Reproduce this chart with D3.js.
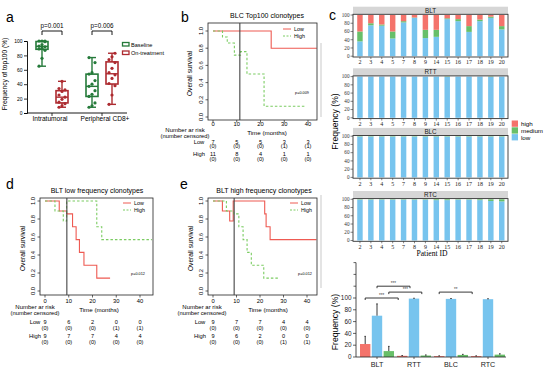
<!DOCTYPE html>
<html><head><meta charset="utf-8">
<script src="https://cdn.jsdelivr.net/npm/d3@7"></script>
<style>body{margin:0;background:#fff}svg{display:block}</style>
</head><body>
<svg id="c" width="554" height="369"></svg>
<script>
// ================= DATA =================
// ---- panel a (box plots) ----
const aGroups = ["Intratumoral", "Peripheral CD8+"];
const aSeries = ["Baseline", "On-treatment"];
const aIntraBaseline = [65, 76, 87, 89, 90, 92, 93, 95, 99, 100, 100, 100];
const aIntraOnTreat  = [8, 10, 13, 15, 19, 22, 25, 30, 32, 34, 44];
const aPeriBaseline  = [8, 10, 14, 23, 26, 31, 37, 40, 45, 54, 56, 70, 77];
const aPeriOnTreat   = [12, 25, 38, 41, 48, 53, 56, 62, 70, 74, 78, 83];
const aTicks = [0, 20, 40, 60, 80, 100];
const aPvals = ["p=0.001", "p=0.006"];

// ---- KM panels ----
const kmTicksX = [0, 10, 20, 30, 40];
const kmTicksY = [0, 0.2, 0.4, 0.6, 0.8, 1.0];
const kmLegend = ["Low", "High"];

const bTitle = "BLC Top100 clonotypes";
const bLowT  = [0, 24.5, 43.7];
const bLowS  = [1, 0.8, 0.8];
const bHighT = [0, 4, 6, 9, 11.6, 14.3, 21.5, 38.9];
const bHighS = [1, 0.93, 0.86, 0.72, 0.76, 0.5, 0.125, 0.125];
const bCut = 11.3, bP = "p=0.009";
const bRiskLow  = ["7", "5", "5", "3", "3"],  bCensLow  = ["(0)", "(0)", "(0)", "(1)", "(1)"];
const bRiskHigh = ["11", "8", "4", "1", "1"], bCensHigh = ["(0)", "(0)", "(0)", "(0)", "(0)"];

const dTitle = "BLT low frequency clonotypes";
const dLowT  = [0, 6, 9.1, 11.6, 13.1, 14.5, 16.4, 21.8, 27.4];
const dLowS  = [1, 0.889, 0.857, 0.714, 0.571, 0.429, 0.286, 0.143, 0.143];
const dHighT = [0, 4.2, 7.7, 9.1, 21.8, 23.9, 45];
const dHighS = [1, 0.889, 0.778, 1.0, 0.714, 0.571, 0.571];
const dCut = 9.2, dP = "p=0.012";
const dRiskLow  = ["9", "6", "2", "0", "0"], dCensLow  = ["(0)", "(0)", "(0)", "(1)", "(1)"];
const dRiskHigh = ["9", "7", "7", "4", "4"], dCensHigh = ["(0)", "(0)", "(0)", "(0)", "(0)"];

const eTitle = "BLT high frequency clonotypes";
const eLowT  = [0, 4.0, 7.1, 8.6, 22.0, 22.6, 24.3, 44];
const eLowS  = [1, 0.889, 0.778, 1.0, 0.857, 0.714, 0.571, 0.571];
const eHighT = [0, 5.7, 8.8, 11, 12.8, 14.5, 16.3, 21.6, 28.1];
const eHighS = [1, 0.889, 0.857, 0.714, 0.571, 0.429, 0.286, 0.143, 0.143];
const eCut = 9.0, eP = "p=0.012";
const eRiskLow  = ["9", "7", "7", "4", "4"], eCensLow  = ["(0)", "(0)", "(0)", "(0)", "(0)"];
const eRiskHigh = ["9", "6", "2", "0", "0"], eCensHigh = ["(0)", "(0)", "(0)", "(1)", "(1)"];

// ---- panel c facets ----
const patients = ["2", "3", "4", "5", "7", "8", "9", "14", "15", "16", "17", "18", "19", "20"];
const facetNames = ["BLT", "RTT", "BLC", "RTC"];
const levels = ["high", "medium", "low"];
const bltLow  = [36, 75, 74, 43, 82, 93, 44, 47, 90, 85, 59, 85, 93, 65];
const bltMed  = [24, 5, 3, 17, 3, 1, 20, 17, 2, 5, 14, 4, 3, 8];
const bltHigh = [40, 20, 23, 40, 15, 6, 36, 36, 8, 10, 27, 11, 4, 27];
const rttLow  = [100, 100, 100, 100, 100, 100, 100, 100, 99, 100, 100, 100, 99, 100];
const rttMed  = [0, 0, 0, 0, 0, 0, 0, 0, 1, 0, 0, 0, 1, 0];
const rttHigh = [0, 0, 0, 0, 0, 0, 0, 0, 0, 0, 0, 0, 0, 0];
const blcLow  = [99, 99, 99, 99, 99, 99, 99, 99, 99, 99, 99, 99, 99, 99];
const blcMed  = [1, 1, 1, 1, 1, 1, 1, 1, 1, 1, 1, 1, 1, 1];
const blcHigh = [0, 0, 0, 0, 0, 0, 0, 0, 0, 0, 0, 0, 0, 0];
const rtcLow  = [99, 99, 99, 99, 99, 99, 99, 98, 98, 99, 99, 98, 96, 95];
const rtcMed  = [1, 1, 1, 1, 1, 1, 1, 2, 2, 1, 1, 2, 4, 5];
const rtcHigh = [0, 0, 0, 0, 0, 0, 0, 0, 0, 0, 0, 0, 0, 0];
const facetTicks = [0, 20, 40, 60, 80, 100];

// ---- panel c summary bars ----
const sumGroups = ["BLT", "RTT", "BLC", "RTC"];
const sumOrder = ["high", "low", "medium"];
const sumHigh = [22, 2, 1.5, 1.5], sumHighErr = [13, 0.5, 0.5, 0.5];
const sumLow  = [70, 99, 98.5, 98], sumLowErr = [20, 0.6, 0.6, 0.8];
const sumMed  = [10, 2.5, 3.5, 4],  sumMedErr = [8, 1, 1, 1.5];
const sumTicks = [0, 20, 40, 60, 80, 100];
const sumMinorTicks = [120, 140, 160];
const sigFrom = [["BLT", "high"], ["BLT", "medium"], ["BLT", "low"], ["BLC", "high"]];
const sigTo   = [["RTT", "high"], ["RTT", "medium"], ["RTT", "low"], ["RTC", "high"]];
const sigLevel = [100, 110, 120, 110];
const sigLabel = ["***", "***", "***", "**"];

// ================= DRAWING =================
const SANS = "'Liberation Sans', Arial, sans-serif";
const SERIF = "'Liberation Serif', 'Times New Roman', serif";
const svg = d3.select("#c");
const txt = (x, y, s, size, opt = {}) => {
  const t = svg.append("text").attr("x", x).attr("y", y).text(s)
    .attr("font-family", opt.font || SANS).attr("font-size", size)
    .attr("fill", opt.fill || "#000").attr("text-anchor", opt.anchor || "start");
  if (opt.rot) t.attr("transform", `rotate(${opt.rot},${x},${y})`);
  return t;
};
const line = (x1, y1, x2, y2, col = "#000", w = 0.8, dash = null) => {
  const l = svg.append("line").attr("x1", x1).attr("y1", y1).attr("x2", x2).attr("y2", y2)
    .attr("stroke", col).attr("stroke-width", w);
  if (dash) l.attr("stroke-dasharray", dash);
  return l;
};

// panel letters
[["a", 6, 22], ["b", 181, 22], ["c", 329, 20], ["d", 6, 189], ["e", 180, 189]]
  .forEach(([s, x, y]) => txt(x, y, s, 14));

// separator lines
line(321, 43, 321, 117, "#bbb", 0.8);
line(321, 195, 321, 288, "#bbb", 0.8);

// ---------- panel a ----------
(function () {
  const green = "#257a3a", red = "#ad2b30";
  const cols = [green, red];
  const x = d3.scaleBand().domain(aGroups).range([27, 127]);
  const xs = d3.scaleBand().domain(aSeries).range([-20, 20]);
  const y = d3.scaleLinear().domain([0, 100]).range([113, 41]);
  const g = svg.append("g");
  g.append("g").attr("transform", "translate(27,0)")
    .call(d3.axisLeft(y).tickValues(aTicks).tickSize(3).tickPadding(1.5))
    .call(a => { a.select(".domain").attr("stroke-width", 0.9); a.selectAll("text").attr("font-size", 5).attr("font-family", SANS); a.selectAll("line").attr("stroke-width", 0.8); });
  line(27, 113, 127, 113, "#000", 0.9);
  aGroups.forEach(gname => line(x(gname) + x.bandwidth() / 2, 113, x(gname) + x.bandwidth() / 2, 116, "#000", 0.8));
  txt(x(aGroups[0]) + x.bandwidth() / 2 - 2, 121, aGroups[0], 6.6, { anchor: "middle" });
  txt(x(aGroups[1]) + x.bandwidth() / 2 + 3, 121, aGroups[1], 6.6, { anchor: "middle" });
  txt(7, 74, "Frequency of top100 (%)", 6.6, { anchor: "middle", rot: -90 });

  const sets = [[aIntraBaseline, aIntraOnTreat], [aPeriBaseline, aPeriOnTreat]];
  aGroups.forEach((gname, gi) => {
    aSeries.forEach((sname, si) => {
      const vals = sets[gi][si].slice().sort(d3.ascending);
      const cx = x(gname) + x.bandwidth() / 2 + xs(sname) + xs.bandwidth() / 2;
      const q1 = d3.quantile(vals, 0.25), q2 = d3.quantile(vals, 0.5), q3 = d3.quantile(vals, 0.75);
      const mn = d3.min(vals), mx = d3.max(vals), col = cols[si], bw = 12;
      line(cx, y(mn), cx, y(q1), col, 1.4);
      line(cx, y(q3), cx, y(mx), col, 1.4);
      line(cx - 4, y(mn), cx + 4, y(mn), col, 1.4);
      line(cx - 4, y(mx), cx + 4, y(mx), col, 1.4);
      g.append("rect").attr("x", cx - bw / 2).attr("y", y(q3)).attr("width", bw)
        .attr("height", y(q1) - y(q3)).attr("fill", "#fff").attr("stroke", col).attr("stroke-width", 1.6);
      line(cx - bw / 2, y(q2), cx + bw / 2, y(q2), col, 1.4);
      vals.forEach((v, i) => {
        g.append("circle").attr("cx", cx + ((i % 3) - 1) * 3).attr("cy", y(v)).attr("r", 1.6).attr("fill", col);
      });
    });
    const x1 = x(gname) + x.bandwidth() / 2 + xs(aSeries[0]) + xs.bandwidth() / 2;
    const x2 = x(gname) + x.bandwidth() / 2 + xs(aSeries[1]) + xs.bandwidth() / 2;
    line(x1, 31, x2, 31, "#000", 0.9); line(x1, 31, x1, 35, "#000", 0.9); line(x2, 31, x2, 35, "#000", 0.9);
    txt((x1 + x2) / 2, 28, aPvals[gi], 6.3, { anchor: "middle" });
  });
  aSeries.forEach((s, i) => {
    g.append("rect").attr("x", 122.5).attr("y", 42.5 + i * 8.5).attr("width", 6.5).attr("height", 3.5)
      .attr("fill", "#fff").attr("stroke", cols[i]).attr("stroke-width", 1.3);
    txt(131, 46.5 + i * 8.5, s, 5.6);
  });
})();

// ---------- KM panels ----------
function km(L, D) {
  const kred = "#ee5a52", kgreen = "#7bcc62";
  const x = d3.scaleLinear().domain([0, 40]).range([L.x0, L.x40]);
  const y = d3.scaleLinear().domain([0, 1]).range([L.y0, L.y1]);
  const g = svg.append("g");
  const mk = (T, S) => T.map((t, i) => [x(t), y(S[i])]);
  const ln = d3.line().curve(d3.curveStepAfter);
  g.append("path").attr("d", ln(mk(D.lowT, D.lowS))).attr("fill", "none").attr("stroke", kred).attr("stroke-width", 1.1);
  g.append("path").attr("d", ln(mk(D.highT, D.highS))).attr("fill", "none").attr("stroke", kgreen).attr("stroke-width", 1.1).attr("stroke-dasharray", "2.5,2");
  line(x(D.cut), L.t, x(D.cut), L.b, "#444", 1.1);
  g.append("rect").attr("x", L.l).attr("y", L.t).attr("width", L.r - L.l).attr("height", L.b - L.t)
    .attr("fill", "none").attr("stroke", "#222").attr("stroke-width", 0.8);
  kmTicksY.forEach(v => {
    line(L.l - 2.5, y(v), L.l, y(v), "#222", 0.7);
    txt(L.l - 5, y(v), v.toFixed(1), 5.8, { anchor: "middle", rot: -90 });
  });
  kmTicksX.forEach(v => {
    line(x(v), L.b, x(v), L.b + 2.5, "#222", 0.7);
    txt(x(v), L.b + L.tickOff, String(v), 5.8, { anchor: "middle" });
  });
  txt(L.ylabX, (L.t + L.b) / 2 + 2, "Overall survival", 6.6, { anchor: "middle", rot: -90 });
  txt(L.titleX, L.titleY, D.title, 7, { anchor: "middle" });
  // legend
  line(L.legX, L.legY, L.legX + 8, L.legY, kred, 1);
  line(L.legX, L.legY + 7, L.legX + 8, L.legY + 7, kgreen, 1, "2,1.5");
  txt(L.legX + 11, L.legY + 1.8, kmLegend[0], 5.3);
  txt(L.legX + 11, L.legY + 8.8, kmLegend[1], 5.3);
  txt(L.pX, L.pY, D.p, 3.8, { anchor: "middle" });
  // risk table
  txt(L.narX, L.ry[0], "Number ar risk", 6, { anchor: "middle" });
  txt(L.narX, L.ry[1], "(number censored)", 5.8, { anchor: "middle" });
  txt(L.timeX, L.ry[2], "Time (months)", 6.2, { anchor: "middle" });
  txt(L.rowX, L.ry[3], kmLegend[0], 5.8, { anchor: "middle" });
  txt(L.rowX, L.ry[5], kmLegend[1], 5.8, { anchor: "middle" });
  kmTicksX.forEach((v, i) => {
    txt(x(v), L.ry[3], D.riskLow[i], 5.6, { anchor: "middle" });
    txt(x(v), L.ry[4], D.censLow[i], 5.6, { anchor: "middle" });
    txt(x(v), L.ry[5], D.riskHigh[i], 5.6, { anchor: "middle" });
    txt(x(v), L.ry[6], D.censHigh[i], 5.6, { anchor: "middle" });
  });
}
km({ l: 208, r: 317, t: 23, b: 120, x0: 213, x40: 308, y0: 117, y1: 31, tickOff: 6.3, ylabX: 191.5, titleX: 267, titleY: 17.5,
     legX: 283, legY: 29, pX: 302, pY: 94, narX: 185, timeX: 267, rowX: 199, ry: [132, 137.5, 134.5, 143.5, 148, 155.5, 160.5] },
   { lowT: bLowT, lowS: bLowS, highT: bHighT, highS: bHighS, cut: bCut, p: bP, title: bTitle,
     riskLow: bRiskLow, censLow: bCensLow, riskHigh: bRiskHigh, censHigh: bCensHigh });
km({ l: 40, r: 153, t: 198, b: 295, x0: 45, x40: 140, y0: 291, y1: 201, tickOff: 7.5, ylabX: 24.5, titleX: 97, titleY: 192.5,
     legX: 123, legY: 203, pX: 138, pY: 275, narX: 35, timeX: 99, rowX: 35, ry: [309, 315, 311.5, 324, 329.5, 338, 344] },
   { lowT: dLowT, lowS: dLowS, highT: dHighT, highS: dHighS, cut: dCut, p: dP, title: dTitle,
     riskLow: dRiskLow, censLow: dCensLow, riskHigh: dRiskHigh, censHigh: dCensHigh });
km({ l: 208, r: 317, t: 198, b: 295, x0: 213, x40: 307, y0: 291, y1: 201, tickOff: 7.5, ylabX: 192.5, titleX: 264, titleY: 192.5,
     legX: 290, legY: 203, pX: 305, pY: 275, narX: 202, timeX: 268, rowX: 200, ry: [309, 315, 311.5, 324, 329.5, 338, 344] },
   { lowT: eLowT, lowS: eLowS, highT: eHighT, highS: eHighS, cut: eCut, p: eP, title: eTitle,
     riskLow: eRiskLow, censLow: eCensLow, riskHigh: eRiskHigh, censHigh: eCensHigh });

// ---------- panel c facets ----------
(function () {
  const colors = { high: "#f4736b", medium: "#68bf69", low: "#77c4ee" };
  const facetData = [[bltLow, bltMed, bltHigh], [rttLow, rttMed, rttHigh], [blcLow, blcMed, blcHigh], [rtcLow, rtcMed, rtcHigh]];
  const stripTops = [6.7, 68.3, 127.9, 191];
  const L = 353, R = 508, stripH = 7.6, panelH = 42.7;
  const x = d3.scaleBand().domain(patients).range([354.5, 507.2]).paddingInner(0.5).paddingOuter(0.25);
  facetNames.forEach((fname, fi) => {
    const st = stripTops[fi], pt = st + stripH, pb = pt + panelH;
    const y = d3.scaleLinear().domain([0, 100]).range([pb - 0.8, pt + 0.7]);
    svg.append("rect").attr("x", L).attr("y", st).attr("width", R - L).attr("height", stripH).attr("fill", "#d6d6d6");
    txt((L + R) / 2, st + 6, fname, 6.3, { anchor: "middle", fill: "#1a1a1a" });
    const [lo, me, hi] = facetData[fi];
    const rows = patients.map((p, i) => ({ p, low: lo[i], medium: me[i], high: hi[i] }));
    const stack = d3.stack().keys(["low", "medium", "high"])(rows);
    stack.forEach(layer => {
      svg.append("g").selectAll("rect").data(layer).join("rect")
        .attr("x", d => x(d.data.p)).attr("width", x.bandwidth())
        .attr("y", d => y(d[1])).attr("height", d => Math.max(0, y(d[0]) - y(d[1])))
        .attr("fill", colors[layer.key]);
    });
    svg.append("rect").attr("x", L).attr("y", pt).attr("width", R - L).attr("height", panelH)
      .attr("fill", "none").attr("stroke", "#333").attr("stroke-width", 0.9);
    facetTicks.forEach(v => {
      line(L - 2.5, y(v), L, y(v), "#333", 0.6);
      txt(L - 3.5, y(v) + 1.8, String(v), 5.2, { anchor: "end", font: SERIF, fill: "#333" });
    });
    patients.forEach(p => {
      const cx = x(p) + x.bandwidth() / 2;
      line(cx, pb, cx, pb + 2, "#333", 0.6);
      txt(cx, pb + 7.3, p, 6, { anchor: "middle", font: SERIF, fill: "#222" });
    });
  });
  txt(432, 256, "Patient ID", 7.6, { anchor: "middle", font: SERIF });
  txt(338, 121.5, "Frequency (%)", 8.6, { anchor: "middle", rot: -90 });
  levels.forEach((lv, i) => {
    svg.append("rect").attr("x", 511.7).attr("y", 120.5 + i * 6.8).attr("width", 6.3).attr("height", 6.3).attr("fill", colors[lv]);
    txt(521, 126 + i * 6.8, lv, 6.2);
  });

  // ---------- summary bar chart ----------
  const x0 = d3.scaleBand().domain(sumGroups).range([358.5, 506.5]);
  const x1 = d3.scaleBand().domain(sumOrder).range([1.5, 35.5]).paddingInner(0.12);
  const y = d3.scaleLinear().domain([0, 160]).range([357, 262.6]);
  const vals = { high: sumHigh, low: sumLow, medium: sumMed };
  const errs = { high: sumHighErr, low: sumLowErr, medium: sumMedErr };
  const bx = (gname, k) => x0(gname) + x1(k) + x1.bandwidth() / 2;
  sumGroups.forEach((gname, gi) => {
    sumOrder.forEach(k => {
      const v = vals[k][gi], e = errs[k][gi];
      svg.append("rect").attr("x", x0(gname) + x1(k)).attr("width", x1.bandwidth())
        .attr("y", y(v)).attr("height", y(0) - y(v)).attr("fill", colors[k]);
      line(bx(gname, k), y(v), bx(gname, k), y(v + e), "#222", 0.9);
      line(bx(gname, k) - 0.8, y(v + e), bx(gname, k) + 0.8, y(v + e), "#222", 0.8);
    });
    line(x0(gname) + x0.bandwidth() / 2, 357, x0(gname) + x0.bandwidth() / 2, 359, "#222", 0.7);
    txt(x0(gname) + x0.bandwidth() / 2, 367, gname, 7.2, { anchor: "middle", fill: "#222" });
  });
  line(356, y(0), 356, y(160), "#222", 0.8);
  line(356, y(0), 506, y(0), "#222", 0.8);
  sumTicks.forEach(v => {
    line(353, y(v), 356, y(v), "#222", 0.7);
    txt(351.5, y(v) + 2.2, String(v), 6.4, { anchor: "end", fill: "#222" });
  });
  sumMinorTicks.forEach(v => line(353.5, y(v), 356, y(v), "#222", 0.7));
  txt(338, 322, "Frequency (%)", 8.6, { anchor: "middle", rot: -90 });
  sigFrom.forEach((f, i) => {
    const xa = bx(f[0], f[1]), xb = bx(sigTo[i][0], sigTo[i][1]) - 4, yy = y(sigLevel[i]);
    line(xa, yy, xb, yy, "#222", 0.9);
    line(xa, yy, xa, yy + 2, "#222", 0.9);
    line(xb, yy, xb, yy + 2, "#222", 0.9);
    txt((xa + xb) / 2, yy - 1.2, sigLabel[i], 4.5, { anchor: "middle", fill: "#444" });
  });
})();
</script>
</body></html>
